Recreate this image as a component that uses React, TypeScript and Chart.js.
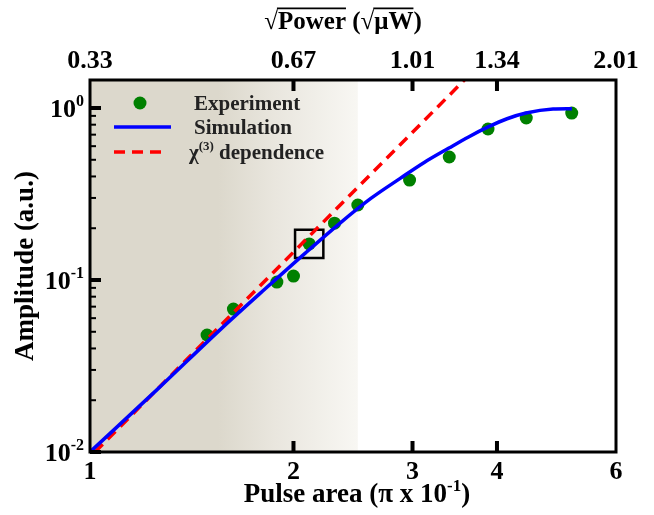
import React, { useEffect, useRef } from "react";
import { Chart, registerables } from "chart.js";

Chart.register(...registerables);

// ---- data ----
const expX = [1.49, 1.63, 1.89, 2.0, 2.11, 2.3, 2.49, 2.97, 3.4, 3.88, 4.42, 5.16];
const expY = [0.0479, 0.0678, 0.0973, 0.1054, 0.162, 0.214, 0.273, 0.381, 0.519, 0.755, 0.875, 0.935];

const simX = [1.0, 1.259, 1.567, 1.82, 2.08, 2.344, 2.6, 2.877, 3.126, 3.396, 3.631, 3.882, 4.14, 4.416, 4.842, 5.164];
const simY = [0.01, 0.0232, 0.0525, 0.0895, 0.1429, 0.2143, 0.297, 0.39, 0.484, 0.585, 0.679, 0.776, 0.866, 0.935, 0.986, 0.991];

const chiX = [1.017, 3.58];
const chiY = [0.01, 1.455];

const highlightIndex = 4;

const xMin = 1;
const xMax = 6;
const yMin = 0.01;
const yMax = 1.455;

const bottomTickValues = [1, 2, 3, 4, 6];
const bottomTickLabels = ["1", "2", "3", "4", "6"];
const innerTickValues = [2, 3, 4];
const topTickValues = [1, 2, 3, 4, 6];
const topTickLabels = ["0.33", "0.67", "1.01", "1.34", "2.01"];
const yMajorValues = [0.01, 0.1, 1];
const yMajorExponents = ["-2", "-1", "0"];
const yMinorMultipliers = [2, 3, 4, 5, 6, 7, 8, 9];

const shadeStart = 1.55;
const shadeEnd = 2.49;

const legendLabels = ["Experiment", "Simulation", "dependence"];

export default function App() {
  const ref = useRef<HTMLCanvasElement>(null);

  useEffect(() => {
    const canvas = ref.current;
    if (!canvas) return;

    const FAMILY = '"Liberation Serif", "Times New Roman", serif';
    const font = (size: number) => `bold ${size}px ${FAMILY}`;
    type Part = { t: string; sup?: boolean; over?: boolean };

    const drawRich = (
      ctx: CanvasRenderingContext2D,
      parts: Part[],
      x: number,
      y: number,
      size: number,
      align: "left" | "center" | "right",
      color = "#000"
    ) => {
      const supSize = Math.round(size * 0.62);
      let total = 0;
      const widths = parts.map((p) => {
        ctx.font = font(p.sup ? supSize : size);
        const w = ctx.measureText(p.t).width;
        total += w;
        return w;
      });
      let cx = align === "left" ? x : align === "center" ? x - total / 2 : x - total;
      ctx.fillStyle = color;
      ctx.textAlign = "left";
      ctx.textBaseline = "alphabetic";
      parts.forEach((p, i) => {
        ctx.font = font(p.sup ? supSize : size);
        const yy = p.sup ? y - size * 0.42 : y;
        ctx.fillText(p.t, cx, yy);
        if (p.over) {
          ctx.fillRect(cx - 1, y - size * 0.86, widths[i] + 1, Math.max(1.5, size * 0.07));
        }
        cx += widths[i];
      });
    };

    const shadeColor = "#dcd8cc";
    const midColor = "#e9e6de";
    const fadeColor = "#f8f7f3";

    const overlay = {
      id: "overlay",
      beforeDatasetsDraw(chart: any) {
        const { ctx, chartArea: a, scales } = chart;
        const x = scales.x;
        ctx.save();
        const x0 = x.getPixelForValue(shadeStart);
        const x1 = x.getPixelForValue(shadeEnd);
        const f = (x0 - a.left) / (x1 - a.left);
        const g = ctx.createLinearGradient(a.left, 0, x1, 0);
        g.addColorStop(0, shadeColor);
        g.addColorStop(f, shadeColor);
        g.addColorStop(f + (1 - f) * 0.4, midColor);
        g.addColorStop(1, fadeColor);
        ctx.fillStyle = g;
        ctx.fillRect(a.left, a.top, x1 - a.left, a.bottom - a.top);
        ctx.restore();
      },
      afterDatasetsDraw(chart: any) {
        const { ctx, chartArea: a, scales } = chart;
        const xs = scales.x;
        const ys = scales.y;
        ctx.save();

        // frame
        ctx.strokeStyle = "#000";
        ctx.lineWidth = 3;
        ctx.strokeRect(a.left, a.top, a.right - a.left, a.bottom - a.top);

        // inner x ticks (bottom and top)
        ctx.lineWidth = 4;
        innerTickValues.forEach((v) => {
          const px = xs.getPixelForValue(v);
          ctx.beginPath();
          ctx.moveTo(px, a.bottom);
          ctx.lineTo(px, a.bottom - 11);
          ctx.moveTo(px, a.top);
          ctx.lineTo(px, a.top + 11);
          ctx.stroke();
        });

        // y ticks
        yMajorValues.forEach((v) => {
          const py = ys.getPixelForValue(v);
          ctx.lineWidth = 4;
          ctx.beginPath();
          ctx.moveTo(a.left, py);
          ctx.lineTo(a.left + 11, py);
          ctx.stroke();
          ctx.lineWidth = 2;
          yMinorMultipliers.forEach((m) => {
            const val = v * m;
            if (val > yMax) return;
            const pm = ys.getPixelForValue(val);
            ctx.beginPath();
            ctx.moveTo(a.left, pm);
            ctx.lineTo(a.left + 6, pm);
            ctx.stroke();
          });
        });

        // bottom tick labels
        bottomTickValues.forEach((v, i) => {
          const px = xs.getPixelForValue(v);
          drawRich(ctx, [{ t: bottomTickLabels[i] }], px, a.bottom + 27, 26, "center");
        });
        // top tick labels
        topTickValues.forEach((v, i) => {
          const px = xs.getPixelForValue(v);
          drawRich(ctx, [{ t: topTickLabels[i] }], px, a.top - 12, 26, "center");
        });
        // y tick labels
        yMajorValues.forEach((v, i) => {
          const py = ys.getPixelForValue(v);
          drawRich(ctx, [{ t: "10" }, { t: yMajorExponents[i], sup: true }], a.left - 6, py + 9, 26, "right");
        });

        // bottom title
        drawRich(
          ctx,
          [{ t: "Pulse area (\u03c0 x 10" }, { t: "-1", sup: true }, { t: ")" }],
          357,
          a.bottom + 50,
          27,
          "center"
        );
        // top title
        drawRich(
          ctx,
          [
            { t: "\u221a" },
            { t: "Power", over: true },
            { t: " (" },
            { t: "\u221a" },
            { t: "\u03bcW", over: true },
            { t: ")" },
          ],
          (a.left + a.right) / 2 - 10,
          a.top - 51,
          25,
          "center"
        );
        // y title
        ctx.save();
        ctx.translate(24, (a.top + a.bottom) / 2);
        ctx.rotate(-Math.PI / 2);
        drawRich(ctx, [{ t: "Amplitude (a.u.)" }], 0, 9, 27, "center");
        ctx.restore();

        // legend
        const lx = a.left;
        const ly = a.top;
        ctx.fillStyle = "#008000";
        ctx.beginPath();
        ctx.arc(lx + 50, ly + 23, 6.5, 0, Math.PI * 2);
        ctx.fill();
        drawRich(ctx, [{ t: legendLabels[0] }], lx + 104, ly + 30, 21, "left", "#222");

        ctx.strokeStyle = "#0000ff";
        ctx.lineWidth = 3.5;
        ctx.beginPath();
        ctx.moveTo(lx + 24, ly + 47);
        ctx.lineTo(lx + 81, ly + 47);
        ctx.stroke();
        drawRich(ctx, [{ t: legendLabels[1] }], lx + 104, ly + 54, 21, "left", "#222");

        ctx.strokeStyle = "#ff0000";
        ctx.setLineDash([11, 7]);
        ctx.beginPath();
        ctx.moveTo(lx + 24, ly + 72);
        ctx.lineTo(lx + 76, ly + 72);
        ctx.stroke();
        ctx.setLineDash([]);
        drawRich(
          ctx,
          [{ t: "\u03c7" }, { t: "(3)", sup: true }, { t: " " + legendLabels[2] }],
          lx + 99,
          ly + 79,
          21,
          "left",
          "#222"
        );

        ctx.restore();
      },
    };

    const chart = new Chart(canvas, {
      type: "scatter",
      data: {
        datasets: [
          {
            label: "Simulation",
            data: simX.map((x, i) => ({ x, y: simY[i] })),
            showLine: true,
            borderColor: "#0000ff",
            borderWidth: 3.5,
            pointRadius: 0,
            cubicInterpolationMode: "monotone",
            order: 0,
          },
          {
            label: "\u03c7(3) dependence",
            data: chiX.map((x, i) => ({ x, y: chiY[i] })),
            showLine: true,
            borderColor: "#ff0000",
            borderWidth: 3.5,
            borderDash: [11, 7],
            pointRadius: 0,
            order: 1,
          },
          {
            label: "highlight",
            data: [{ x: expX[highlightIndex], y: expY[highlightIndex] }],
            pointStyle: "rect",
            pointRadius: 20,
            pointBorderWidth: 2.5,
            pointBorderColor: "#000",
            pointBackgroundColor: "rgba(0,0,0,0)",
            order: 2,
          },
          {
            label: "Experiment",
            data: expX.map((x, i) => ({ x, y: expY[i] })),
            pointRadius: 6.5,
            pointBorderWidth: 0,
            pointBackgroundColor: "#008000",
            pointBorderColor: "#008000",
            order: 3,
          },
        ],
      },
      options: {
        responsive: false,
        animation: false,
        layout: { padding: { left: 90, top: 80, right: 38, bottom: 63 } },
        plugins: { legend: { display: false }, tooltip: { enabled: false } },
        scales: {
          x: { type: "logarithmic", min: xMin, max: xMax, display: false },
          y: { type: "logarithmic", min: yMin, max: yMax, display: false },
        },
      } as any,
      plugins: [overlay],
    } as any);

    return () => chart.destroy();
  }, []);

  return (
    <div style={{ position: "fixed", left: 0, top: 0, width: 654, height: 515, background: "#fff" }}>
      <canvas ref={ref} width={654} height={515} style={{ display: "block" }} />
    </div>
  );
}
